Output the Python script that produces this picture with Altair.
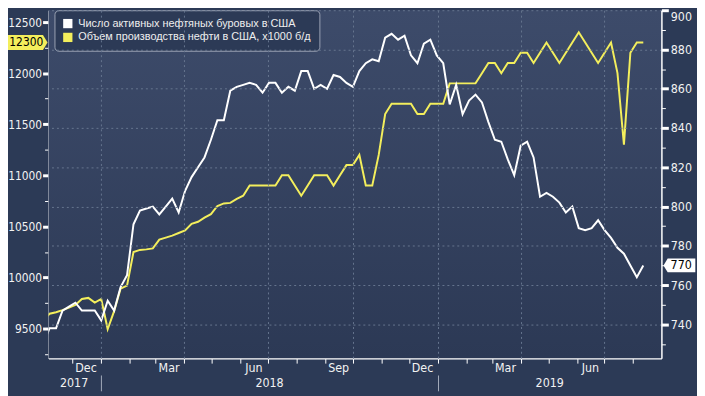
import altair as alt
import pandas as pd

# ---------------- data (weekly) ----------------
first_week = "2017-10-30"   # weekly points, as placed on the reference time axis
rigs = [730, 738, 738, 747, 749, 751, 747, 747, 747, 742,
        752, 747, 759, 765, 791, 798, 799, 800, 796, 800,
        804, 797, 808, 815, 820, 825, 834, 844, 844, 859,
        861, 862, 863, 862, 858, 863, 863, 858, 861, 859,
        869, 869, 860, 862, 860, 867, 866, 863, 861, 869,
        873, 875, 874, 886, 888, 885, 887, 877, 873, 883,
        885, 877, 873, 852, 862, 847, 854, 857, 853, 843,
        834, 833, 824, 816, 831, 833, 825, 805, 807, 805,
        802, 797, 800, 789, 788, 789, 793, 788, 784, 779,
        776, 770, 764, 770]
prod = [9580, 9645, 9660, 9680, 9705, 9732, 9790, 9800, 9755, 9790,
        9495, 9670, 9890, 9920, 10250, 10270, 10275, 10285, 10370, 10390,
        10410, 10435, 10460, 10525, 10545, 10585, 10620, 10700, 10725, 10730,
        10770, 10800, 10900, 10900, 10900, 10900, 10900, 11000, 11000, 10900,
        10800, 10900, 11000, 11000, 11000, 10900, 11000, 11100, 11100, 11200,
        10900, 10900, 11200, 11600, 11700, 11700, 11700, 11700, 11600, 11600,
        11700, 11700, 11700, 11900, 11900, 11900, 11900, 11900, 12000, 12100,
        12100, 12000, 12100, 12100, 12200, 12200, 12100, 12200, 12300, 12200,
        12100, 12200, 12300, 12400, 12300, 12200, 12100, 12200, 12300, 12000,
        11300, 12200, 12300, 12300]
series_names = ["Число активных нефтяных буровых в США",
                "Объем производства нефти в США, x1000 б/д"]

left_ticks = list(range(9250, 12501, 250))
right_ticks = list(range(730, 901, 10))
month_starts = [(2017, 12)] + [(2018, m) for m in range(1, 13)] + [(2019, m) for m in range(1, 9)]
quarter_starts = [(2018, 1), (2018, 4), (2018, 7), (2018, 10), (2019, 1), (2019, 4), (2019, 7)]
month_label_pos = [(2017, 12), (2018, 3), (2018, 6), (2018, 9), (2018, 12), (2019, 3), (2019, 6)]
year_label_pos = [(2017, 12, 2), (2018, 7, 2), (2019, 5, 2)]
year_breaks = [(2018, 1), (2019, 1)]

dates = pd.date_range(first_week, periods=len(rigs), freq="7D")
df = pd.DataFrame({"date": dates, "rigs": rigs, "prod": prod})
last = df.tail(1)

# ---------------- style ----------------
WHITE = "#ffffff"
YELLOW = "#f3ee5c"
GRID = "#66758f"
LABEL = "#f2f2f2"
OUTER = "#2c3a56"
NARROW = "DejaVu Sans Condensed"
FS = 12

XDOM = [alt.DateTime(year=2017, month=11, date=4, hours=20),
        alt.DateTime(year=2019, month=8, date=31, hours=16)]


def dt(y, m, d=1):
    return alt.DateTime(year=y, month=m, date=d)


def xenc(axis):
    return alt.X("date:T", scale=alt.Scale(domain=XDOM), axis=axis)


ax_month_ticks = alt.Axis(orient="bottom", values=[dt(y, m) for y, m in month_starts],
                          labels=False, ticks=True, tickSize=5, tickColor=WHITE, tickWidth=1,
                          domain=True, domainColor=WHITE, domainWidth=1.5, grid=False, title=None)
ax_quarter_grid = alt.Axis(orient="bottom", values=[dt(y, m) for y, m in quarter_starts],
                           labels=False, ticks=False, domain=False, grid=True, gridColor=GRID,
                           gridDash=[2, 3], gridWidth=1, title=None, zindex=1)
ax_month_labels = alt.Axis(orient="bottom", values=[dt(y, m, 15) for y, m in month_label_pos],
                           labelExpr="timeFormat(datum.value, '%b')", ticks=False, tickSize=0,
                           domain=False, grid=False, labelPadding=3, labelFont=NARROW,
                           labelFontSize=FS + 0.5, labelColor=LABEL, labelOverlap=False,
                           labelFlush=False, title=None)
ax_year_labels = alt.Axis(orient="bottom", values=[dt(*v) for v in year_label_pos],
                          labelExpr="timeFormat(datum.value, '%Y')", ticks=False, tickSize=0,
                          domain=False, grid=False, labelPadding=19, labelFont=NARROW,
                          labelFontSize=FS + 0.5, labelColor=LABEL, labelOverlap=False,
                          labelFlush=False, title=None)
ax_year_breaks = alt.Axis(orient="bottom", values=[dt(y, m) for y, m in year_breaks],
                          labels=False, ticks=True, tickSize=16, offset=17, tickColor="#a3abba",
                          tickWidth=1, domain=False, grid=False, title=None)

ax_left = alt.Axis(orient="left", values=left_ticks,
                   labelExpr="datum.value % 500 === 0 ? format(datum.value, 'd') : ''",
                   tickSize={"condition": {"test": "datum.value % 500 === 0", "value": 6}, "value": 4},
                   tickWidth={"condition": {"test": "datum.value % 500 === 0", "value": 3}, "value": 1},
                   tickColor=WHITE, domain=True, domainColor=WHITE, domainWidth=1.5, grid=False,
                   labelPadding=1, labelFont=NARROW, labelFontSize=FS, labelColor=LABEL,
                   labelOverlap=False, title=None)
ax_right = alt.Axis(orient="right", values=right_ticks,
                    labelExpr="datum.value % 20 === 0 ? format(datum.value, 'd') : ''",
                    tickSize={"condition": {"test": "datum.value % 20 === 0", "value": 7}, "value": 4},
                    tickWidth={"condition": {"test": "datum.value % 20 === 0", "value": 3}, "value": 1},
                    tickColor=WHITE, domain=True, domainColor=WHITE, domainWidth=1.5,
                    grid=True, gridColor=GRID, gridDash=[2, 3], gridWidth=1,
                    gridOpacity={"condition": {"test": "datum.value % 20 === 0", "value": 1}, "value": 0},
                    labelPadding=2, labelFont=NARROW, labelFontSize=FS + 0.5, labelColor=LABEL,
                    labelOverlap=False, labelFlush=True, title=None, zindex=1)

y_left = dict(scale=alt.Scale(domain=[9210, 12616], nice=False, zero=False), axis=ax_left)
y_right = dict(scale=alt.Scale(domain=[722.75, 900], nice=False, zero=False), axis=ax_right)

LEFT_FLAG = "M-0.13,0 L-0.75,-1 L-5.5,-1 L-5.5,1 L-0.75,1 Z"
RIGHT_FLAG = "M0.3,0 L0.9,-1 L4.9,-1 L4.9,1 L0.9,1 Z"

# ---------------- layers ----------------
bg = alt.Chart(pd.DataFrame({"a": [0]})).mark_rect(
    fill={"gradient": "linear", "x1": 0, "x2": 0, "y1": 0, "y2": 1,
          "stops": [{"offset": 0, "color": "#3d4b6a"}, {"offset": 1, "color": "#2c3955"}]}
).encode(x=alt.value(0), x2=alt.value("width"), y=alt.value(0), y2=alt.value("height"))

yellow_line = alt.Chart(df).mark_line(color=YELLOW, strokeWidth=2, clip=True).encode(
    x=xenc(ax_month_ticks), y=alt.Y("prod:Q", **y_left))
yellow_flag = alt.Chart(last).mark_point(shape=LEFT_FLAG, size=225, filled=True, color=YELLOW,
                                         opacity=1, strokeWidth=0).encode(
    x=alt.value(0), y=alt.Y("prod:Q", **y_left))
yellow_flag_text = alt.Chart(last).mark_text(font=NARROW, fontSize=FS, color="#000000", dx=-22.5,
                                             align="center", baseline="middle").encode(
    x=alt.value(0), y=alt.Y("prod:Q", **y_left), text=alt.Text("prod:Q", format="d"))
left_group = alt.layer(yellow_line, yellow_flag, yellow_flag_text)

white_line = alt.Chart(df).mark_line(color=WHITE, strokeWidth=2, clip=True).encode(
    x=xenc(ax_quarter_grid), y=alt.Y("rigs:Q", **y_right))
white_flag = alt.Chart(last).mark_point(shape=RIGHT_FLAG, size=196, filled=True, color=WHITE,
                                        opacity=1, strokeWidth=0).encode(
    x=alt.value("width"), y=alt.Y("rigs:Q", **y_right))
white_flag_text = alt.Chart(last).mark_text(font=NARROW, fontSize=FS + 0.5, color="#000000", dx=20,
                                            align="center", baseline="middle").encode(
    x=alt.value("width"), y=alt.Y("rigs:Q", **y_right), text=alt.Text("rigs:Q", format="d"))
right_group = alt.layer(white_line, white_flag, white_flag_text)

month_lbl = alt.Chart(df).mark_point(opacity=0, size=0).encode(x=xenc(ax_month_labels))
year_lbl = alt.Chart(df).mark_point(opacity=0, size=0).encode(x=xenc(ax_year_labels))
year_sep = alt.Chart(df).mark_point(opacity=0, size=0).encode(x=xenc(ax_year_breaks))

legend_layer = alt.Chart(pd.DataFrame({"series": series_names})).mark_square(
    size=88, opacity=1, filled=True).encode(
    color=alt.Color("series:N",
                    scale=alt.Scale(domain=series_names, range=[WHITE, YELLOW]),
                    legend=alt.Legend(orient="none", legendX=6, legendY=0, title=None,
                                      fillColor="#2c3a56", strokeColor="#9aa2b3",
                                      cornerRadius=4, padding=8, labelFont="Liberation Sans",
                                      labelFontSize=11, labelColor="#eeeeee", symbolSize=88,
                                      symbolType="square", symbolStrokeWidth=0, rowPadding=2,
                                      labelOffset=5, labelLimit=400))
).transform_filter("false")

chart = alt.layer(bg, left_group, right_group, month_lbl, year_lbl, year_sep, legend_layer).resolve_scale(
    x="independent", y="independent", color="independent"
).properties(
    width=620, height=352, background=OUTER,
    padding={"left": 41, "top": 0, "right": 36, "bottom": 36},
    autosize=alt.AutoSizeParams(type="none"),
).configure_view(stroke=None)

chart.save("out.html", embed_options={"renderer": "svg", "actions": False})
